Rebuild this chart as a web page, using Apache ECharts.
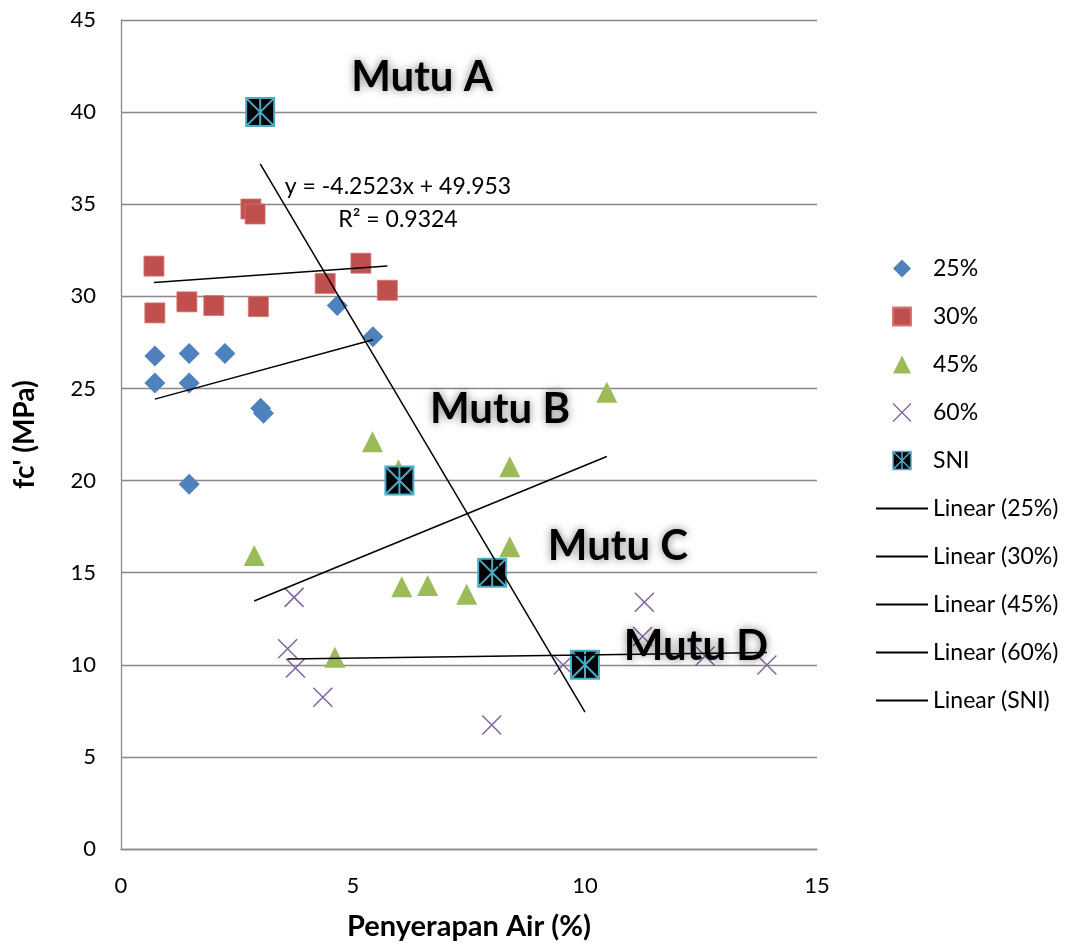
<!DOCTYPE html>
<html>
<head>
<meta charset="utf-8">
<script src="https://cdn.jsdelivr.net/npm/echarts@6/dist/echarts.min.js"></script>
<style>
  html, body { margin: 0; padding: 0; background: #ffffff; }
  #chart { width: 1067px; height: 944px; }
</style>
</head>
<body>
<div id="chart"></div>
<script>
// Water absorption (%) vs. compressive strength fc' (MPa), grouped by mix
const absorption25 = [0.73, 0.73, 1.47, 1.47, 2.24, 1.47, 3.01, 3.07, 4.66, 5.43];
const strength25   = [26.76, 25.3, 26.9, 25.3, 26.9, 19.8, 23.92, 23.65, 29.5, 27.8];

const absorption30 = [0.71, 0.73, 1.42, 2.0, 2.96, 4.40, 5.17, 5.74, 2.80, 2.89];
const strength30   = [31.64, 29.1, 29.7, 29.5, 29.44, 30.7, 31.8, 30.33, 34.74, 34.47];

const absorption45 = [2.87, 4.61, 5.42, 5.98, 6.05, 6.61, 7.45, 8.38, 8.38, 10.47];
const strength45   = [15.93, 10.41, 22.11, 20.58, 14.24, 14.3, 13.83, 20.75, 16.41, 24.79];

const absorption60 = [3.73, 3.59, 3.76, 4.35, 7.99, 9.53, 11.28, 11.24, 12.59, 13.92];
const strength60   = [13.66, 10.87, 9.83, 8.24, 6.73, 9.99, 13.39, 11.53, 10.48, 9.99];

// SNI reference grades
const absorptionSNI = [3, 6, 8, 10];
const strengthSNI   = [40, 20, 15, 10];

const seriesNames = ['25%', '30%', '45%', '60%', 'SNI'];
const gradeLabels = ['Mutu A', 'Mutu B', 'Mutu C', 'Mutu D'];
const xAxisTitle = 'Penyerapan Air (%)';
const yAxisTitle = "fc' (MPa)";

const FONT = 'Lato, "Open Sans", sans-serif';

function pairs(xs, ys) { return xs.map((x, i) => [x, ys[i]]); }

// Least-squares linear fit, drawn over the data's x extent
function linearFit(xs, ys) {
  const n = xs.length;
  const mx = xs.reduce((a, b) => a + b, 0) / n;
  const my = ys.reduce((a, b) => a + b, 0) / n;
  let sxy = 0, sxx = 0, syy = 0;
  for (let i = 0; i < n; i++) {
    sxy += (xs[i] - mx) * (ys[i] - my);
    sxx += (xs[i] - mx) ** 2;
    syy += (ys[i] - my) ** 2;
  }
  const slope = sxy / sxx;
  const intercept = my - slope * mx;
  const r2 = (sxy * sxy) / (sxx * syy);
  const x0 = Math.min(...xs), x1 = Math.max(...xs);
  return { slope, intercept, r2, line: [[x0, slope * x0 + intercept], [x1, slope * x1 + intercept]] };
}

const groups = [
  [absorption25, strength25],
  [absorption30, strength30],
  [absorption45, strength45],
  [absorption60, strength60],
  [absorptionSNI, strengthSNI]
];
const fits = groups.map(g => linearFit(g[0], g[1]));
const sniFit = fits[4];
const eqText = 'y = ' + sniFit.slope.toFixed(4) + 'x + ' + sniFit.intercept.toFixed(3);
const r2Text = 'R\u00B2 = ' + sniFit.r2.toFixed(4);

// Marker shapes (path symbols keep their aspect in the legend)
const diamondPath = 'path://M10,0L20,10L10,20L0,10Z';
const squarePath = 'path://M0,0H20V20H0Z';
const trianglePath = 'path://M10,0L20,20H0Z';
const crossPath = 'path://M0,0L20,20M20,0L0,20';
const sniPath = 'path://M0,0H28V28H0Z M0,0L28,28 M28,0L0,28 M14,0L14,28';

const scatterStyles = [
  { symbol: diamondPath, symbolSize: 21, itemStyle: { color: '#4f81bd', opacity: 1 } },
  { symbol: squarePath, symbolSize: 20, itemStyle: { color: '#c0504d', borderColor: '#d17774', borderWidth: 0.8, opacity: 1 } },
  { symbol: trianglePath, symbolSize: 21, itemStyle: { color: '#9bbb59', opacity: 1 } },
  { symbol: crossPath, symbolSize: 19, itemStyle: { color: 'none', borderColor: '#8064a2', borderWidth: 1.5, opacity: 1 } },
  { symbol: sniPath, symbolSize: 28, itemStyle: { color: '#000000', borderColor: '#4bacc6', borderWidth: 2, opacity: 1 } }
];

const series = [];
seriesNames.forEach((name, i) => {
  series.push(Object.assign({
    name: name,
    type: 'scatter',
    data: pairs(groups[i][0], groups[i][1]),
    symbolKeepAspect: true,
    z: 2
  }, scatterStyles[i]));
});
seriesNames.forEach((name, i) => {
  series.push({
    name: 'Linear (' + name + ')',
    type: 'line',
    data: fits[i].line,
    symbol: 'none',
    itemStyle: { color: 'rgba(0,0,0,0)', borderWidth: 0 },
    lineStyle: { color: '#000000', width: 1.5 },
    z: 3
  });
});

const legendData = seriesNames.map((n, i) => {
  const d = { name: n };
  if (i === 3) d.itemStyle = { color: 'none', borderColor: '#8064a2', borderWidth: 1.3 };
  if (i === 4) d.itemStyle = { color: '#000000', borderColor: '#4bacc6', borderWidth: 1.5 };
  return d;
}).concat(seriesNames.map(n => ({ name: 'Linear (' + n + ')' })));

const gradeStyle = {
  fill: '#000000',
  font: 'bold 42px ' + FONT,
  align: 'center',
  verticalAlign: 'middle',
  textShadowColor: 'rgba(0,0,0,0.5)',
  textShadowBlur: 9
};
const gradeAnchors = [[422, 77], [500, 409], [618, 546], [696, 646]];

const option = {
  animation: false,
  backgroundColor: '#ffffff',
  textStyle: { fontFamily: FONT },
  grid: { left: 121, top: 20, right: 250, bottom: 95, containLabel: false, outerBoundsMode: 'none' },
  xAxis: {
    type: 'value', min: 0, max: 15, interval: 5,
    name: xAxisTitle, nameLocation: 'middle', nameGap: 63,
    nameTextStyle: { fontSize: 29, fontWeight: 'bold', color: '#000', fontFamily: FONT },
    axisLine: { show: true, lineStyle: { color: '#898989', width: 1.3 } },
    axisTick: { show: false },
    axisLabel: { fontSize: 22, color: '#000', margin: 26, fontFamily: FONT },
    splitLine: { show: false }
  },
  yAxis: {
    type: 'value', min: 0, max: 45, interval: 5,
    name: yAxisTitle, nameLocation: 'middle', nameGap: 82,
    nameTextStyle: { fontSize: 28, fontWeight: 'bold', color: '#000', fontFamily: FONT },
    axisLine: { show: true, lineStyle: { color: '#898989', width: 1.3 } },
    axisTick: { show: false },
    axisLabel: { fontSize: 22, color: '#000', margin: 25, fontFamily: FONT },
    splitLine: { show: true, lineStyle: { color: '#898989', width: 1.3 } }
  },
  legend: {
    orient: 'vertical',
    left: 870, top: 252,
    itemWidth: 52, itemHeight: 18, itemGap: 25,
    symbolKeepAspect: true,
    data: legendData,
    textStyle: { fontSize: 23, color: '#000', fontFamily: FONT },
    selectedMode: false
  },
  graphic: gradeLabels.map((t, i) => ({
    type: 'text', x: gradeAnchors[i][0], y: gradeAnchors[i][1], z: 100,
    style: Object.assign({ text: t }, gradeStyle)
  })).concat([
    { type: 'text', x: 398, y: 187, z: 100,
      style: { text: eqText, font: '23px ' + FONT, fill: '#000', align: 'center', verticalAlign: 'middle' } },
    { type: 'text', x: 398, y: 220, z: 100,
      style: { text: r2Text, font: '23px ' + FONT, fill: '#000', align: 'center', verticalAlign: 'middle' } }
  ]),
  series: series
};

const chart = echarts.init(document.getElementById('chart'), null, { renderer: 'canvas' });
chart.setOption(option);
</script>
</body>
</html>
